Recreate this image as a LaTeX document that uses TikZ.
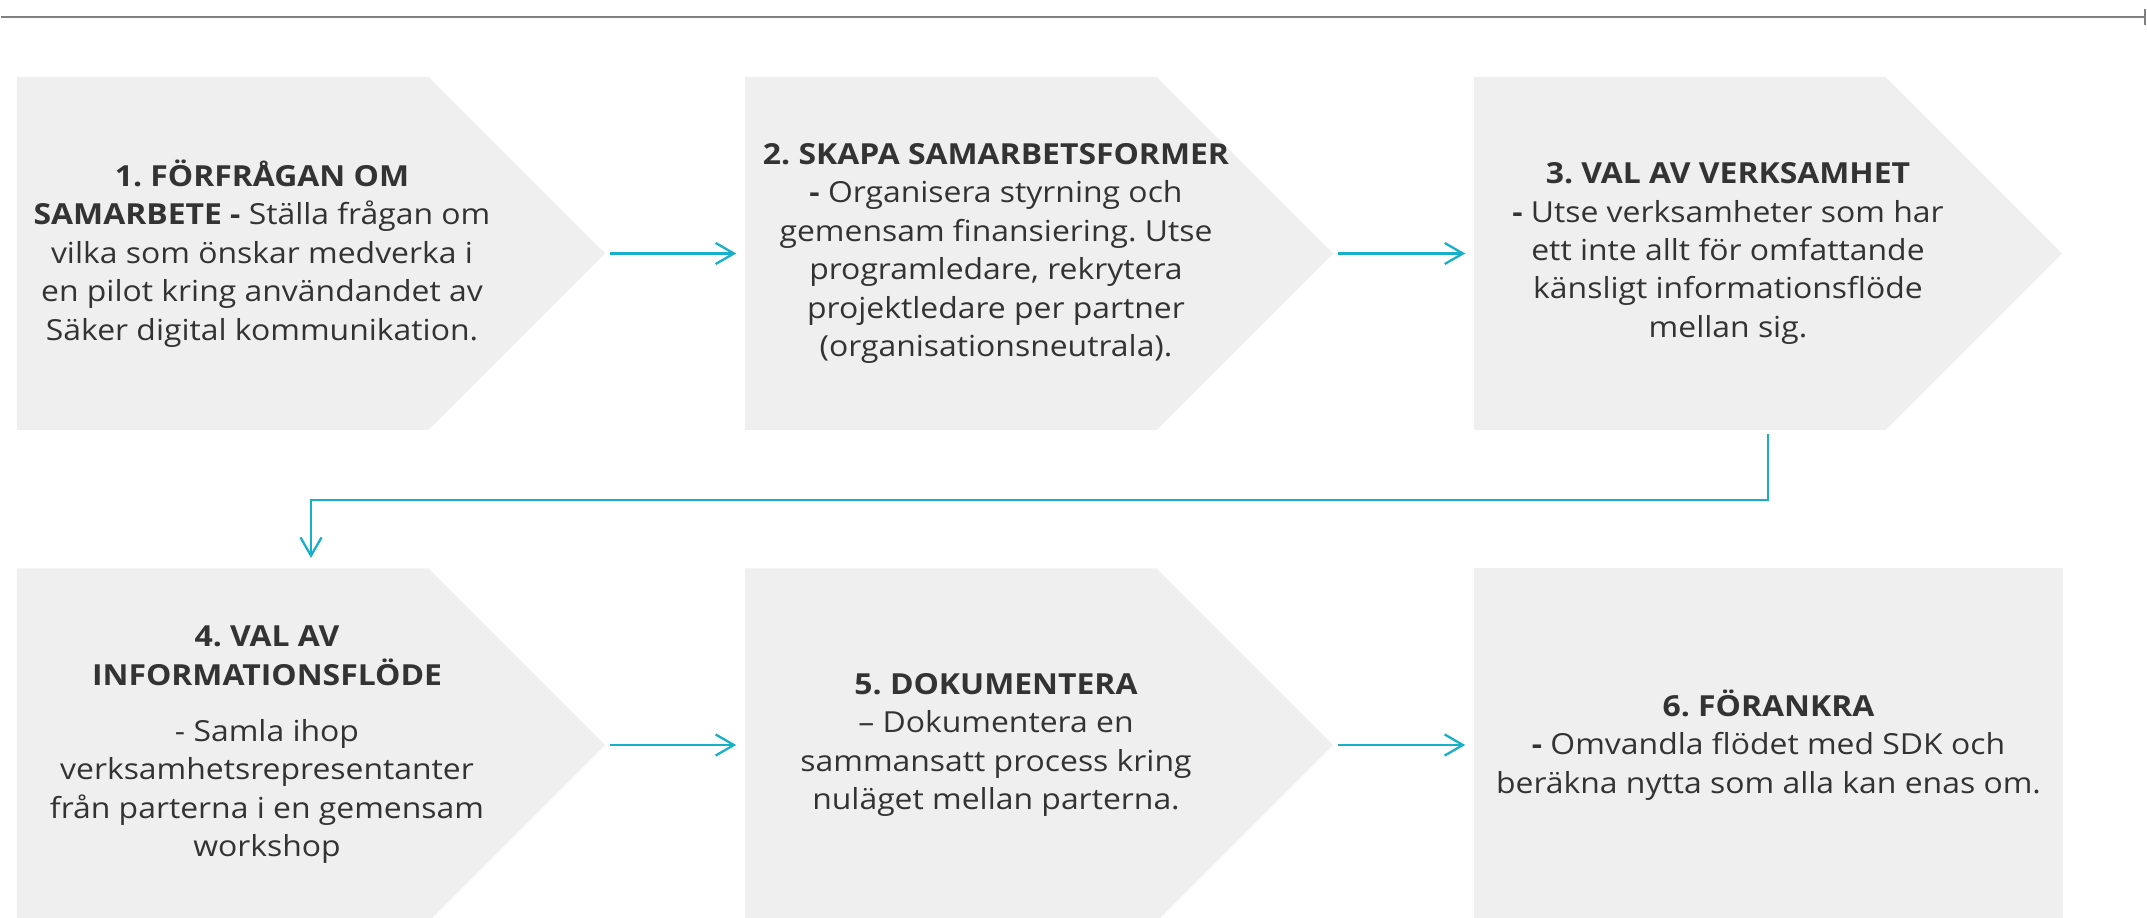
\documentclass[tikz,border=0pt]{standalone}
\usepackage{fontspec}
\setmainfont{Open Sans}[FakeStretch=1.1]
\frenchspacing
\usetikzlibrary{arrows.meta}

\definecolor{boxgray}{HTML}{EFEFEF}
\definecolor{flowteal}{HTML}{17AFC9}
\definecolor{textgray}{HTML}{333333}
\definecolor{rulegray}{HTML}{808080}

\begin{document}
\begin{tikzpicture}[
    chevron/.style={rectangle, inner sep=0pt, minimum width=5.88cm, minimum height=3.53cm,
        path picture={\fill[boxgray] (path picture bounding box.north west)
            -- ([xshift=-1.765cm]path picture bounding box.north east)
            -- (path picture bounding box.east)
            -- ([xshift=-1.765cm]path picture bounding box.south east)
            -- (path picture bounding box.south west) -- cycle;}},
    plainbox/.style={rectangle, fill=boxgray, draw=none, inner sep=0pt, minimum width=5.89cm, minimum height=3.53cm},
    steptext/.style={align=center, text=textgray, inner sep=0pt, font=\fontsize{8.25}{10.95}\selectfont},
    flow/.style={-{Straight Barb[length=5.2pt,width=6pt]}, flowteal, line width=0.65pt, shorten <=1.2pt, shorten >=2.3pt}
]
\useasboundingbox (0,0) rectangle (21.47,9.18);

% rule along the top
\coordinate (ruleL) at (0.01,9.01);
\coordinate (ruleR) at (21.46,9.01);
\draw[rulegray, line width=0.65pt, -{Bar[width=4.5pt]}] (ruleL) -- (ruleR);

% first row
\node[chevron] (c1) at (3.11,6.645) {};
\node[chevron] (c2) at (10.39,6.645) {};
\node[chevron] (c3) at (17.68,6.645) {};

\node[steptext] (t1) at (2.62,6.645) {
    \textbf{1. FÖRFRÅGAN OM}\\
    \textbf{SAMARBETE -} Ställa frågan om\\
    vilka som önskar medverka i\\
    en pilot kring användandet av\\
    Säker digital kommunikation.
};
\node[steptext] (t2) at (9.96,6.645) {
    \textbf{2. SKAPA SAMARBETSFORMER}\\
    \textbf{-} Organisera styrning och\\
    gemensam finansiering. Utse\\
    programledare, rekrytera\\
    projektledare per partner\\
    (organisationsneutrala).
};
\node[steptext] (t3) at (17.28,6.645) {
    \textbf{3. VAL AV VERKSAMHET}\\
    \textbf{-} Utse verksamheter som har\\
    ett inte allt för omfattande\\
    känsligt informationsflöde\\
    mellan sig.
};

% second row
\node[chevron] (c4) at (3.11,1.73) {};
\node[chevron] (c5) at (10.39,1.73) {};
\node[plainbox] (c6) at (17.685,1.73) {};

\node[steptext] (t4) at (2.67,1.73) {
    \textbf{4. VAL AV}\\
    \textbf{INFORMATIONSFLÖDE}\\[5pt]
    - Samla ihop\\
    verksamhetsrepresentanter\\
    från parterna i en gemensam\\
    workshop
};
\node[steptext] (t5) at (9.96,1.73) {
    \textbf{5. DOKUMENTERA}\\
    – Dokumentera en\\
    sammansatt process kring\\
    nuläget mellan parterna.
};
\node[steptext] (t6) at (17.685,1.73) {
    \textbf{6. FÖRANKRA}\\
    \textbf{-} Omvandla flödet med SDK och\\
    beräkna nytta som alla kan enas om.
};

% connectors
\draw[flow] (c1.east) -- (c2.west);
\draw[flow] (c2.east) -- (c3.west);
\draw[flow] (c4.east) -- (c5.west);
\draw[flow] (c5.east) -- (c6.west);
\draw[flow, shorten <=0.8pt, shorten >=2.8pt] (c3.south) -- ++(0,-0.69) -| (c4.north);

\end{tikzpicture}
\end{document}
